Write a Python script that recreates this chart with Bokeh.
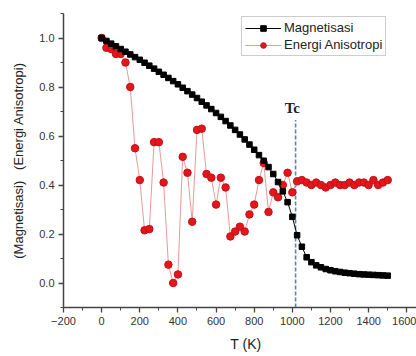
from bokeh.plotting import figure
from bokeh.models import FixedTicker, PrintfTickFormatter, Label, Range1d
from bokeh.embed import file_html
from bokeh.resources import INLINE

# ---- data ----
temp_mag = [0, 25, 50, 75, 100, 125, 150, 175, 200, 225, 250, 275, 300, 325, 350, 375, 400,
            425, 450, 475, 500, 525, 550, 575, 600, 625, 650, 675, 700, 725, 750, 775, 800,
            825, 850, 875, 900, 925, 950, 975, 1000, 1025, 1050, 1075, 1100, 1125, 1150, 1175,
            1200, 1225, 1250, 1275, 1300, 1325, 1350, 1375, 1400, 1425, 1450, 1475, 1500]
magnetisasi = [1.0, 0.988, 0.977, 0.966, 0.955, 0.944, 0.933, 0.922, 0.911, 0.899, 0.887, 0.875,
               0.862, 0.850, 0.837, 0.824, 0.811, 0.797, 0.783, 0.769, 0.755, 0.740, 0.725,
               0.710, 0.694, 0.678, 0.661, 0.643, 0.625, 0.606, 0.586, 0.565, 0.544, 0.522,
               0.499, 0.473, 0.445, 0.412, 0.374, 0.330, 0.270, 0.195, 0.148, 0.105, 0.085,
               0.072, 0.064, 0.057, 0.052, 0.048, 0.045, 0.042, 0.040, 0.038, 0.036, 0.035,
               0.034, 0.033, 0.032, 0.031, 0.030]
temp_ani = temp_mag
energi_anisotropi = [1.0, 0.96, 0.955, 0.935, 0.935, 0.90, 0.80, 0.55, 0.42, 0.215, 0.22, 0.575,
                     0.575, 0.41, 0.075, 0.0, 0.035, 0.515, 0.45, 0.25, 0.625, 0.63, 0.445, 0.43,
                     0.32, 0.43, 0.39, 0.19, 0.21, 0.23, 0.21, 0.28, 0.32, 0.42, 0.49, 0.29, 0.37,
                     0.35, 0.40, 0.45, 0.37, 0.415, 0.42, 0.41, 0.40, 0.41, 0.40, 0.39, 0.40, 0.41,
                     0.40, 0.40, 0.41, 0.40, 0.41, 0.41, 0.40, 0.42, 0.40, 0.41, 0.42]
x_ticks = [-200, 0, 200, 400, 600, 800, 1000, 1200, 1400, 1600]
y_ticks = [0.0, 0.2, 0.4, 0.6, 0.8, 1.0]
tc_value = 1017
tc_text = "Tc"
x_title = "\u00a0\u00a0\u00a0T (K)"
y_title = "(Magnetisasi)\u00a0\u00a0\u00a0(Energi Anisotropi)"

FONT = "Liberation Sans"

p = figure(width=416, height=356, output_backend="svg", toolbar_location=None,
           x_range=Range1d(-200, 1651), y_range=Range1d(-0.1, 1.1),
           min_border_left=63, min_border_right=0, min_border_top=13, min_border_bottom=49)
p.outline_line_color = None
p.xgrid.visible = False
p.ygrid.visible = False
p.background_fill_color = "white"
p.border_fill_color = "white"

# axes
p.xaxis.ticker = FixedTicker(ticks=x_ticks, minor_ticks=list(range(-200, 1700, 100)))
p.yaxis.ticker = FixedTicker(ticks=y_ticks, minor_ticks=[round(-0.1 + 0.1 * i, 1) for i in range(13)])
p.yaxis.formatter = PrintfTickFormatter(format="%.1f")
for ax in (p.xaxis[0], p.yaxis[0]):
    ax.axis_line_color = "#444444"
    ax.axis_line_width = 1.5
    ax.major_tick_line_color = "#444444"
    ax.minor_tick_line_color = "#444444"
    ax.major_tick_line_width = 1.3
    ax.minor_tick_line_width = 1.0
    ax.major_tick_out = 5
    ax.major_tick_in = 0
    ax.minor_tick_out = 3
    ax.minor_tick_in = 0
    ax.major_label_text_font = FONT
    ax.major_label_text_font_size = "11px"
    ax.major_label_text_color = "#333333"
    ax.major_label_standoff = 4
    ax.axis_label_text_font = FONT
    ax.axis_label_text_font_style = "normal"
    ax.axis_label_text_color = "#222222"
p.yaxis.axis_label = y_title
p.yaxis.axis_label_text_font_size = "13px"
p.yaxis.axis_label_standoff = 10
p.xaxis.axis_label = x_title
p.xaxis.axis_label_text_font_size = "14px"
p.xaxis.axis_label_standoff = 8

# Tc dashed line
p.segment(x0=[tc_value], y0=[-0.1], x1=[tc_value], y1=[0.665],
          line_color="#5b84b1", line_width=1.6, line_dash="4 2")

# series
p.line(temp_ani, energi_anisotropi, line_color="#e89a9a", line_width=1,
       legend_label="Energi Anisotropi")
p.scatter(temp_ani, energi_anisotropi, marker="circle", size=7.5, fill_color="#e3161c",
          line_color="#c41016", legend_label="Energi Anisotropi")
p.line(temp_mag, magnetisasi, line_color="black", line_width=1, legend_label="Magnetisasi")
p.scatter(temp_mag, magnetisasi, marker="square", size=5.5, fill_color="black",
          line_color="black", legend_label="Magnetisasi")

leg = p.legend[0]
items = leg.items
leg.items = [items[1], items[0]]
leg.location = (178, 251)
leg.border_line_color = "#999999"
leg.border_line_width = 1
leg.background_fill_color = "white"
leg.background_fill_alpha = 1
leg.label_text_font = FONT
leg.label_text_font_size = "13px"
leg.label_text_color = "#222222"
leg.glyph_width = 36
leg.glyph_height = 14
leg.label_height = 14
leg.label_standoff = 3
leg.padding = 3
leg.spacing = 2
leg.margin = 0

# Tc label
p.add_layout(Label(x=1000, y=0.714, text=tc_text, text_font="Liberation Serif",
                   text_font_style="bold", text_font_size="15px", text_color="#222222",
                   text_align="center", text_baseline="middle"))

open("out.html", "w").write(file_html(p, INLINE))
